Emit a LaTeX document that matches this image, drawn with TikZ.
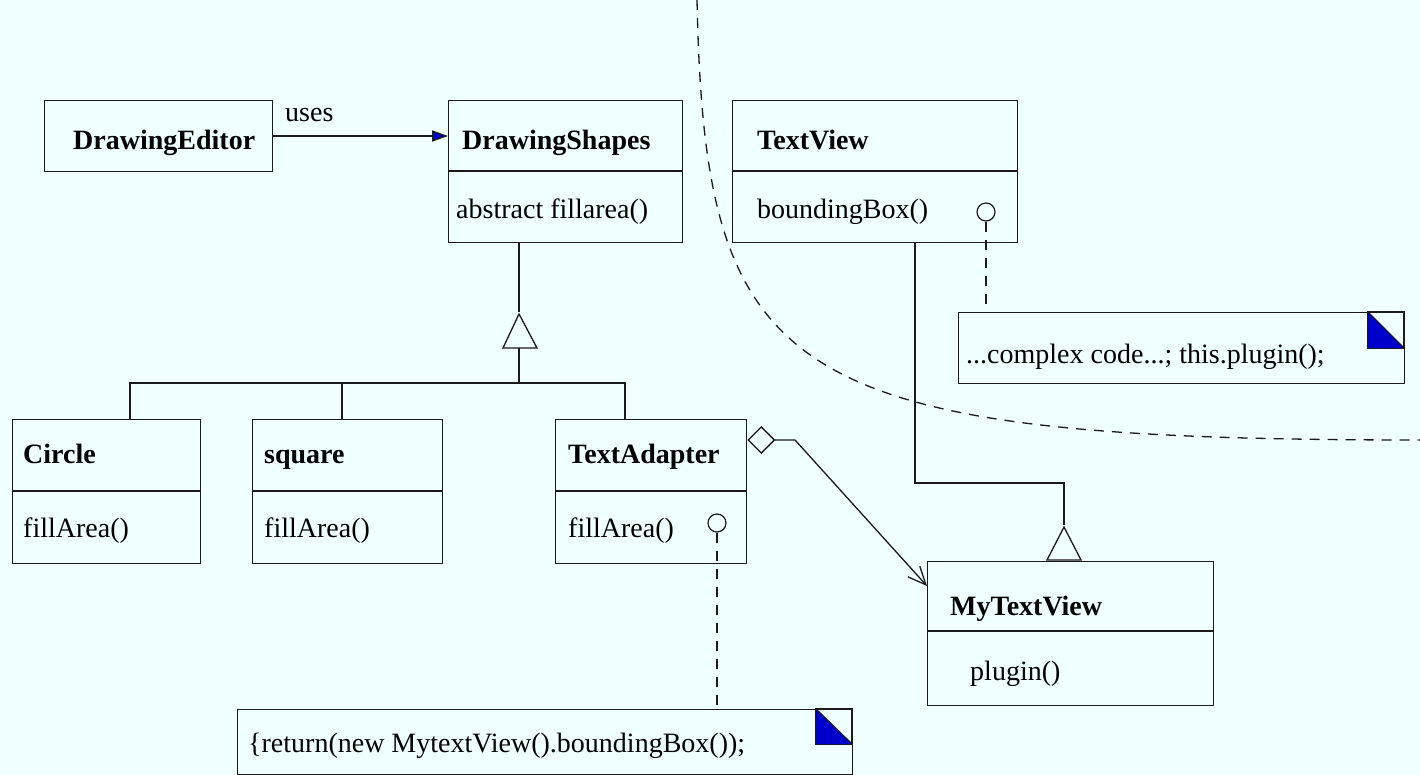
\documentclass[tikz,border=0pt]{standalone}
\usepackage{fontspec}
\setmainfont{Liberation Serif}
\usetikzlibrary{arrows.meta,calc}
\definecolor{bgcol}{HTML}{F0FFFF}
\definecolor{linecol}{HTML}{1A1A1A}
\definecolor{tipblue}{HTML}{0000CC}
\newcommand{\umlfont}{\fontsize{28}{32}\selectfont}
\tikzset{
  classbox/.style={draw=linecol, line width=1.3pt, inner sep=0pt, anchor=north west},
  label/.style={anchor=base west, inner sep=0pt, font=\umlfont},
  title/.style={anchor=base west, inner sep=0pt, font=\umlfont\bfseries},
  conn/.style={draw=linecol, line width=1.3pt},
  dashconn/.style={conn, dash pattern=on 10pt off 8pt},
  lolli/.style={draw=linecol, line width=1.2pt, circle, inner sep=0pt, minimum size=18pt},
  cornerfill/.style={fill=tipblue, draw=linecol, line width=1.2pt},
}
\begin{document}
\begin{tikzpicture}[x=1pt, y=-1pt]
  \useasboundingbox (0,0) rectangle (1420,775);
  \fill[bgcol] (0,0) rectangle (1420,775);

  % separating curve
  \draw[dashconn] (697,0) .. controls (705,380) and (780,440) .. (1420,440);

  % class boxes
  \node[classbox, minimum width=228pt, minimum height=71pt] (de) at (44,100) {};
  \node[classbox, minimum width=234pt, minimum height=142pt] (ds) at (448,100) {};
  \node[classbox, minimum width=285pt, minimum height=142pt] (tv) at (732,100) {};
  \node[classbox, minimum width=188pt, minimum height=144pt] (ci) at (12,419) {};
  \node[classbox, minimum width=190pt, minimum height=144pt] (sq) at (252,419) {};
  \node[classbox, minimum width=191pt, minimum height=144pt] (ta) at (555,419) {};
  \node[classbox, minimum width=286pt, minimum height=144pt] (mv) at (927,561) {};

  % compartment dividers
  \draw[conn] (ds.west |- 0,171) -- (ds.east |- 0,171);
  \draw[conn] (tv.west |- 0,171) -- (tv.east |- 0,171);
  \draw[conn] (ci.west |- 0,491) -- (ci.east |- 0,491);
  \draw[conn] (sq.west |- 0,491) -- (sq.east |- 0,491);
  \draw[conn] (ta.west |- 0,491) -- (ta.east |- 0,491);
  \draw[conn] (mv.west |- 0,631) -- (mv.east |- 0,631);

  % class texts
  \node[title] (tde) at (73,150) {DrawingEditor};
  \node[title] (tds) at (462,150) {DrawingShapes};
  \node[label] (mds) at (456,219) {abstract fillarea()};
  \node[title] (ttv) at (757,150) {TextView};
  \node[label] (mtv) at (757,219) {boundingBox()};
  \node[title] (tci) at (23,463) {Circle};
  \node[label] (mci) at (23,537) {fillArea()};
  \node[title] (tsq) at (264,463) {square};
  \node[label] (msq) at (264,537) {fillArea()};
  \node[title] (tta) at (568,463) {TextAdapter};
  \node[label] (mta) at (568,537) {fillArea()};
  \node[title] (tmv) at (950,615) {MyTextView};
  \node[label] (mmv) at (970,680) {plugin()};

  % uses association
  \node[label] (uses) at (285,122) {uses};
  \draw[conn, -{Triangle[length=16pt,width=11pt,fill=tipblue]}] (de.east |- 0,136) -- (ds.west |- 0,136);

  % generalisation to DrawingShapes
  \coordinate (hub) at (519,383);
  \coordinate (apex) at (519,314);
  \draw[conn] (ds.south -| apex) -- (519,312);
  \draw[conn] (apex) -- (503,348) -- (537,348) -- cycle;
  \draw[conn, line width=2pt] (519,348) -- (hub);
  \draw[conn] (ci.north -| 130,0) |- (hub);
  \draw[conn] (hub) -| (ta.north -| 625,0);
  \draw[conn] (sq.north -| 342,0) -- (342,383);

  % generalisation of MyTextView to TextView
  \coordinate (apex2) at (1064,527);
  \draw[conn] (tv.south -| 915,0) |- (1064,483) -- (1064,525);
  \draw[conn] (apex2) -- (1047,560) -- (1081,560) -- cycle;

  % aggregation TextAdapter -> MyTextView
  \coordinate (bend) at (795,440);
  \draw[conn, {Diamond[open,length=28pt,width=28pt]}-{Straight Barb[length=18pt,width=16pt]}]
    (ta.east |- 0,440) -- (bend) -- (mv.west |- 0,586);

  % notes
  \node[classbox, minimum width=446pt, minimum height=71pt] (n1) at (958,312) {};
  \draw[conn] (1368,312) rectangle (1404,348);
  \fill[tipblue] (1368,312) -- (1368,348) -- (1404,348) -- cycle;
  \draw[conn] (1368,312) -- (1404,348);
  \node[label] (tn1) at (966,363) {...complex code...; this.plugin();};

  \node[classbox, minimum width=615pt, minimum height=65pt] (n2) at (237,709) {};
  \draw[conn] (816,709) rectangle (852,744);
  \fill[tipblue] (816,709) -- (816,744) -- (852,744) -- cycle;
  \draw[conn] (816,709) -- (852,744);
  \node[label] (tn2) at (248,752) {\{return(new MytextView().boundingBox());};

  % lollipops and note links
  \node[lolli] (l1) at (986,212) {};
  \node[lolli] (l2) at (717,523) {};
  \draw[dashconn] (l1.south) -- (n1.north -| l1);
  \draw[dashconn] (l2.south) -- (n2.north -| l2);
\end{tikzpicture}
\end{document}
